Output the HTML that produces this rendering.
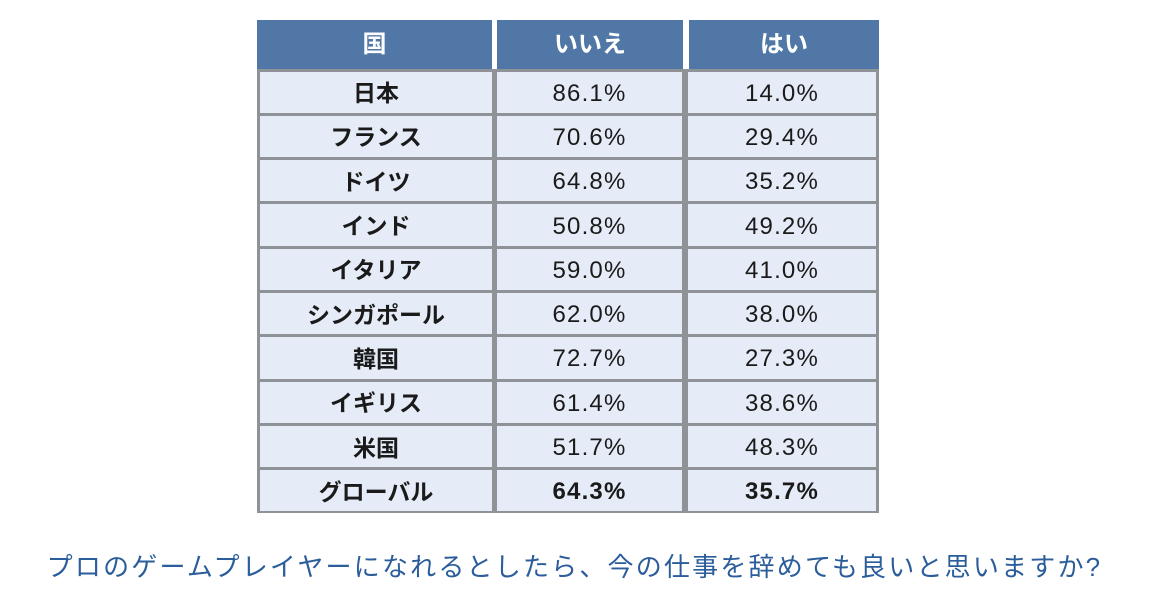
<html><head><style>
body{margin:0;width:1149px;height:596px;background:#fff;position:relative;overflow:hidden;font-family:"Liberation Sans","Noto Sans CJK JP",sans-serif}
.c{position:absolute;display:flex;align-items:center;justify-content:center;font-size:23px;color:#1a1a1a;line-height:1;padding-top:3px;box-sizing:border-box}
.n{letter-spacing:1.2px;font-size:24px}
.h{background:#5077a6;color:#fff;font-weight:bold;font-size:24px;padding-top:0}
.b{background:#e5ecf7}
.k{font-weight:bold}
#grid{position:absolute;left:257px;top:69px;width:622px;height:444px;background:#8f9398}
.cap{position:absolute;left:0;width:1149px;top:551px;text-align:center;color:#2b5d9b;font-size:26px;letter-spacing:2.2px;line-height:32px;font-family:"Liberation Sans","Noto Sans CJK JP",sans-serif}
</style></head><body>
<div class="c h" style="left:257px;top:20px;width:235px;height:49px">国</div>
<div class="c h" style="left:497px;top:20px;width:186px;height:49px">いいえ</div>
<div class="c h" style="left:689px;top:20px;width:190px;height:49px">はい</div>
<div id="grid"></div>
<div id="rows"></div>
<script>
var d=[["日本","86.1%","14.0%"],["フランス","70.6%","29.4%"],["ドイツ","64.8%","35.2%"],["インド","50.8%","49.2%"],["イタリア","59.0%","41.0%"],["シンガポール","62.0%","38.0%"],["韓国","72.7%","27.3%"],["イギリス","61.4%","38.6%"],["米国","51.7%","48.3%"],["グローバル","64.3%","35.7%"]];
var cols=[[260,232],[497,185],[688,188]];var h="";
for(var i=0;i<10;i++){var t=69+i*44.3+2.5,bt=69+(i+1)*44.3-0.5;
for(var j=0;j<3;j++){var cl=(j==0||i==9)?" k":"";if(j>0)cl+=" n";
h+='<div class="c b'+cl+'" style="left:'+cols[j][0]+'px;top:'+t+'px;width:'+cols[j][1]+'px;height:'+(bt-t)+'px">'+d[i][j]+'</div>';}}
document.getElementById("rows").innerHTML=h;
</script>
<div class="cap">プロのゲームプレイヤーになれるとしたら、今の仕事を辞めても良いと思いますか?</div>
</body></html>
